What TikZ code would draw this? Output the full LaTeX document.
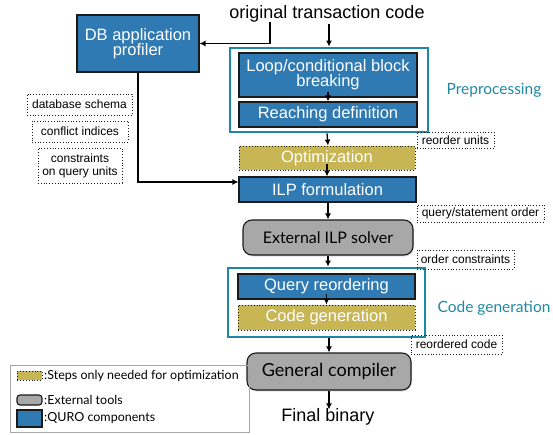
\documentclass[tikz,border=0pt]{standalone}
\usepackage{fontspec}
\setmainfont{Liberation Sans}
\newfontfamily\gill{Lato}
\usetikzlibrary{arrows.meta,shadows}
\definecolor{qblue}{HTML}{2F7AB3}
\definecolor{qolive}{HTML}{C8B553}
\definecolor{qgray}{HTML}{A8A8A8}
\definecolor{qteal}{HTML}{1F87A5}
\definecolor{qedge}{HTML}{1A1A1A}
\tikzset{
  qbox/.style={draw=qedge, line width=1.1pt, fill=qblue, text=white, inner sep=0pt, align=center,
    font=\fontsize{16.5}{17}\selectfont},
  optbox/.style={draw=qedge, dotted, line width=0.9pt, fill=qolive, text=white, inner sep=0pt, align=center,
    font=\fontsize{16.5}{17}\selectfont},
  extbox/.style={draw=qedge, line width=1.1pt, fill=qgray, rounded corners=9pt, inner sep=0pt, align=center},
  shadowed/.style={drop shadow={opacity=0.25, shadow xshift=1pt, shadow yshift=-1.5pt}},
  lblbox/.style={draw=qedge, dotted, line width=0.8pt, inner sep=0pt, align=center,
    font=\fontsize{12}{13}\selectfont},
  grpframe/.style={draw=qteal, line width=2.8pt},
  grplabel/.style={text=qteal, font=\gill\fontsize{15.5}{16}\selectfont},
  arr/.style={-{Latex[length=6pt,width=6pt]}, line width=1.3pt, draw=black},
  legtxt/.style={anchor=west, inner sep=0pt, font=\gill\fontsize{12.5}{13}\selectfont},
}
\begin{document}
\begin{tikzpicture}[x=1pt,y=-1pt]
\useasboundingbox (0,0) rectangle (553,435);
% title
\node[font=\fontsize{18}{19}\selectfont, inner sep=1pt] (title) at (327,14) {original transaction code};
% profiler
\node[qbox, minimum width=122pt, minimum height=57pt] (prof) at (138,43.5) {DB application\\[-2pt]profiler};
% preprocessing group
\node[grpframe, minimum width=198pt, minimum height=84pt, inner sep=0pt] (prep) at (329,90) {};
\node[qbox, minimum width=178pt, minimum height=44pt] (loop) at (328,75) {Loop/conditional block\\[-2pt]breaking};
\node[qbox, minimum width=178pt, minimum height=25pt] (reach) at (328,114.5) {Reaching definition};
\node[grplabel] (preplbl) at (494,90) {Preprocessing};
% optimization, ILP
\node[optbox, minimum width=176pt, minimum height=24pt] (opt) at (327,158) {Optimization};
\node[qbox, minimum width=177pt, minimum height=25pt] (ilp) at (327.5,189.5) {ILP formulation};
% solver
\node[extbox, shadowed, minimum width=170pt, minimum height=35pt, font=\gill\fontsize{16}{17}\selectfont] (solver) at (328,237.5) {External ILP solver};
% code generation group
\node[grpframe, minimum width=197pt, minimum height=69pt, inner sep=0pt] (cgf) at (326.5,302.5) {};
\node[qbox, minimum width=177pt, minimum height=25pt] (qr) at (326.5,286.5) {Query reordering};
\node[optbox, minimum width=177pt, minimum height=25pt] (cg) at (326.5,317.5) {Code generation};
\node[grplabel] (cglbl) at (494,308) {Code generation};
% compiler and binary
\node[extbox, shadowed, minimum width=164pt, minimum height=37pt, font=\gill\fontsize{18}{19}\selectfont] (comp) at (329,371.5) {General compiler};
\node[font=\fontsize{18}{19}\selectfont, inner sep=1pt] (final) at (328,417) {Final binary};
% dotted labels
\node[lblbox, minimum width=77pt, minimum height=16pt] (l1) at (455.5,140.5) {reorder units};
\node[lblbox, minimum width=127pt, minimum height=17pt] (l2) at (480.5,213.5) {query/statement order};
\node[lblbox, minimum width=97pt, minimum height=19pt] (l3) at (465.5,259.5) {order constraints};
\node[lblbox, minimum width=91pt, minimum height=19pt] (l4) at (456.5,344.5) {reordered code};
\node[lblbox, minimum width=105pt, minimum height=21pt] (l5) at (79.5,104.5) {database schema};
\node[lblbox, minimum width=96pt, minimum height=21pt] (l6) at (80,131.5) {conflict indices};
\node[lblbox, minimum width=84pt, minimum height=35pt] (l7) at (80,165.5) {constraints\\on query units};
% arrows
\coordinate (tl) at (270,22);
\draw[arr] (tl) |- (prof.east);
\draw[arr] (title.south -| prep.north) -- (prep.north);
\draw[arr] ([yshift=6pt]loop.south) -- (reach.north);
\draw[arr] (prep.south -| opt.north) -- ([xshift=1pt]opt.north);
\draw[arr] ([yshift=6pt]opt.south) -- (opt.south |- ilp.north);
\draw[arr] (ilp.south -| solver.north) -- (solver.north);
\draw[arr] (solver.south) -- (solver.south |- cgf.north);
\draw[arr] ([yshift=6pt]qr.south) -- (cg.north);
\draw[arr] (cgf.south -| comp.north) -- (comp.north);
\draw[arr] (comp.south) -- ([yshift=-2pt]comp.south |- final.north);
\draw[arr] (prof.south) |- ([yshift=7.5pt]ilp.west);
% legend
\node[draw=gray!70, line width=0.6pt, minimum width=239pt, minimum height=67pt, inner sep=0pt] (leg) at (129.5,398.5) {};
\node[optbox, minimum width=25pt, minimum height=9pt] (s1) at (29.5,375.5) {};
\node[extbox, rounded corners=3pt, minimum width=25pt, minimum height=10pt] (s2) at (29.5,400) {};
\node[qbox, minimum width=25pt, minimum height=17pt] (s3) at (29.5,418.5) {};
\node[legtxt] (t1) at (44,375.5) {:Steps only needed for optimization};
\node[legtxt] (t2) at (44,400) {:External tools};
\node[legtxt] (t3) at (44,418.5) {:QURO components};
\end{tikzpicture}
\end{document}
